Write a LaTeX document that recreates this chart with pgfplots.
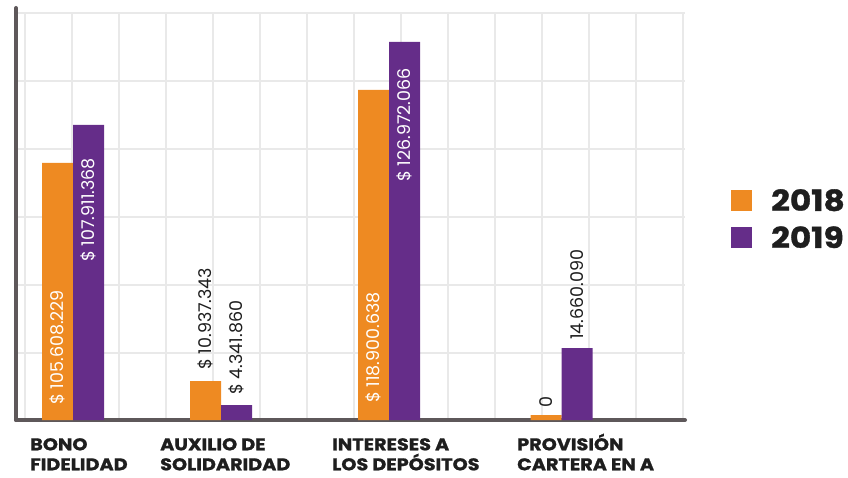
\documentclass[border=0pt]{standalone}
\usepackage{pgfplots}
\pgfplotsset{compat=1.18}
\usepackage{pgfplotstable}
\usepackage{fontspec}
\setmainfont{Poppins}
\newfontfamily\catfont[FakeStretch=1.13, FakeBold=1.2]{Poppins}

\definecolor{c18}{HTML}{EE8A22}
\definecolor{c19}{HTML}{652D89}
\definecolor{gridc}{HTML}{E9E9E9}
\definecolor{axc}{HTML}{5E585A}
\definecolor{txt}{HTML}{1E1E1E}

% x = group centre (px), y = drawn bar height (px), lab = value label,
% dy = label offset from bar top
\pgfplotstableread{
x y lab dy
73 257 {\textcolor{white}{\$ 105.608.229}} -242
221 39 {\$ 10.937.343} 11
389 330 {\textcolor{white}{\$ 118.900.638}} -313
561.5 5 {0} 7
}\tA
\pgfplotstableread{
x y lab dy
73 295 {\textcolor{white}{\$ 107.911.368}} -137
221 15 {\$ 4.341.860} 10
389 378 {\textcolor{white}{\$ 126.972.066}} -140
561.5 72 {14.660.090} 8
}\tB

\begin{document}
\begin{tikzpicture}
\useasboundingbox (0,0) rectangle (848pt,477pt);
\begin{axis}[
  at={(16pt,57pt)}, anchor=south west,
  x=1pt, y=1pt, scale only axis,
  xmin=16, xmax=685, ymin=0, ymax=407,
  enlargelimits=false,
  axis x line=bottom, axis y line=left,
  axis line style={-, line width=4pt, color=axc, line cap=round},
  y axis line style={shorten >=-5pt},
  xtick={25,72,...,684}, ytick={67,135,...,407},
  xticklabels={}, yticklabels={},
  major tick length=0pt,
  grid=major,
  major grid style={color=gridc, line width=1.5pt},
  extra x ticks={30,160,332,517},
  extra x tick labels={{BONO\\FIDELIDAD},{AUXILIO DE\\SOLIDARIDAD},{INTERESES A\\LOS DEPÓSITOS},{PROVISI\smash{Ó}N\\CARTERA EN A}},
  extra x tick style={grid=none, major tick length=0pt,
    tick label style={anchor=north west, align=left, inner sep=0pt, yshift=-18pt,
      font=\catfont\fontsize{17}{20}\selectfont\bfseries, text=txt}},
  ybar, bar width=31,
  point meta=explicit symbolic,
  nodes near coords,
  visualization depends on={\thisrow{dy} \as \labdy},
  nodes near coords style={yshift=\labdy, rotate=90, anchor=west, inner sep=0pt,
    text=txt, font=\fontsize{17.5}{19}\selectfont},
  legend style={at={(axis cs:731,233)}, anchor=north west, draw=none, fill=none,
    inner sep=0pt, row sep=10pt, font=\catfont\fontsize{29}{30}\selectfont\bfseries,
    text=txt},
  legend cell align=left,
]
\addplot[fill=c18, draw=none, bar shift=-15.5pt,
  legend image code/.code={\fill[c18] (0pt,-10.5pt) rectangle (21pt,10.5pt);}]
  table[x=x, y=y, meta=lab] {\tA};
\addlegendentry{\hspace*{17pt}2018}
\addplot[fill=c19, draw=none, bar shift=15.5pt,
  legend image code/.code={\fill[c19] (0pt,-10.5pt) rectangle (21pt,10.5pt);}]
  table[x=x, y=y, meta=lab] {\tB};
\addlegendentry{\hspace*{17pt}2019}
\end{axis}
\end{tikzpicture}
\end{document}
